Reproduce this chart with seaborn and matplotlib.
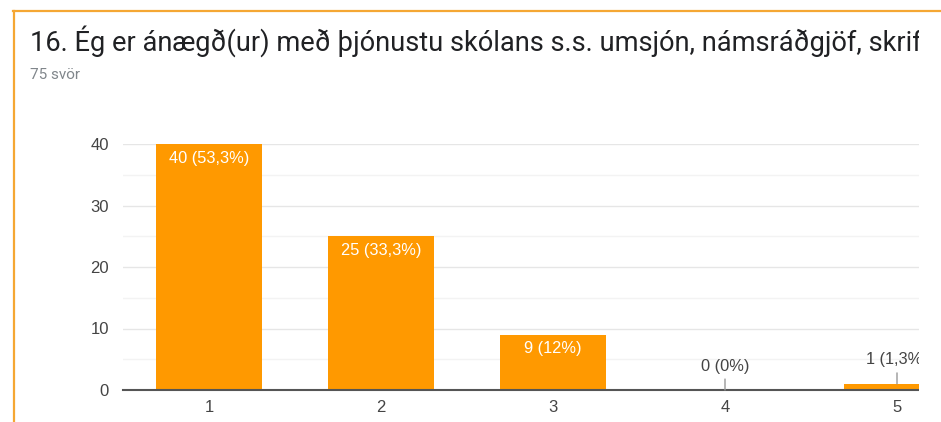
import matplotlib
matplotlib.use("Agg")
import matplotlib.pyplot as plt
import seaborn as sns
import pandas as pd
from matplotlib.patches import Rectangle
from matplotlib.lines import Line2D

# datos
categorias = ["1", "2", "3", "4", "5"]
respuestas = [40, 25, 9, 0, 1]
porcentajes = ["53,3%", "33,3%", "12%", "0%", "1,3%"]
titulo = "16. Ég er ánægð(ur) með þjónustu skólans s.s. umsjón, námsráðgjöf, skrifstofu"
subtitulo = "75 svör"

df = pd.DataFrame({"cat": categorias, "n": respuestas})

W, H = 941, 422
fig = plt.figure(figsize=(W / 100, H / 100), dpi=100)
fig.patch.set_facecolor("white")

# eje: de x=123 a x=983 px (se corta a la derecha), y=390 (0) a y=144 (40)
ax = fig.add_axes([123 / W, (H - 390) / H, (983 - 123) / W, (390 - 144) / H])
sns.barplot(data=df, x="cat", y="n", color="#ff9900", saturation=1, width=0.62, ax=ax, zorder=2)

ax.set_ylim(0, 40)
ax.set_yticks([0, 10, 20, 30, 40])
ax.set_yticks([5, 15, 25, 35], minor=True)
ax.grid(axis="y", which="major", color="#e6e6e6", lw=1, zorder=0)
ax.grid(axis="y", which="minor", color="#f3f3f3", lw=1, zorder=0)
ax.set_axisbelow(True)
for s in ["top", "right", "left"]:
    ax.spines[s].set_visible(False)
ax.spines["bottom"].set_color("#555555")
ax.spines["bottom"].set_linewidth(1.5)
ax.spines["bottom"].set_zorder(3)
ax.tick_params(axis="both", which="both", length=0, labelsize=12, labelcolor="#444444")
ax.tick_params(axis="y", pad=10)
ax.tick_params(axis="x", pad=7)
for t in ax.get_xticklabels() + ax.get_yticklabels():
    t.set_fontfamily("Liberation Sans")
ax.set_xlabel("")
ax.set_ylabel("")

# etiquetas de valores
for i, (v, p) in enumerate(zip(respuestas, porcentajes)):
    etiqueta = f"{v} ({p})"
    if v >= 5:
        ax.annotate(etiqueta, (i, v), xytext=(0, -14), textcoords="offset pixels",
                    ha="center", va="center", color="white", fontsize=11.8,
                    family="Liberation Sans", zorder=4)
    else:
        ax.annotate(etiqueta, (i, v), xytext=(0, 24), textcoords="offset pixels",
                    ha="center", va="center", color="#444444", fontsize=11.8,
                    family="Liberation Sans", zorder=4,
                    arrowprops=dict(arrowstyle="-", color="#999999", lw=1,
                                    shrinkA=2, shrinkB=0))

# títulos
fig.text(30 / W, (H - 41) / H, titulo, fontsize=19.6, family="Roboto",
         color="#202124", ha="left", va="center", zorder=3)
fig.text(30 / W, (H - 75) / H, subtitulo, fontsize=11, family="Roboto",
         color="#80868b", ha="left", va="center", zorder=3)

# recorte blanco a la derecha
fig.patches.append(Rectangle((919 / W, 0), (W - 919) / W, (H - 14) / H,
                             transform=fig.transFigure, facecolor="white",
                             edgecolor="none", zorder=10))

# borde naranja de la tarjeta
borde = "#f5a733"
fig.lines.append(Line2D([14 / W, 14 / W], [0, (H - 11) / H], transform=fig.transFigure,
                        color=borde, lw=1.6, zorder=11))
fig.lines.append(Line2D([13 / W, 1], [(H - 11) / H, (H - 11) / H], transform=fig.transFigure,
                        color=borde, lw=1.6, zorder=11))

fig.savefig("out.png", dpi=100)
